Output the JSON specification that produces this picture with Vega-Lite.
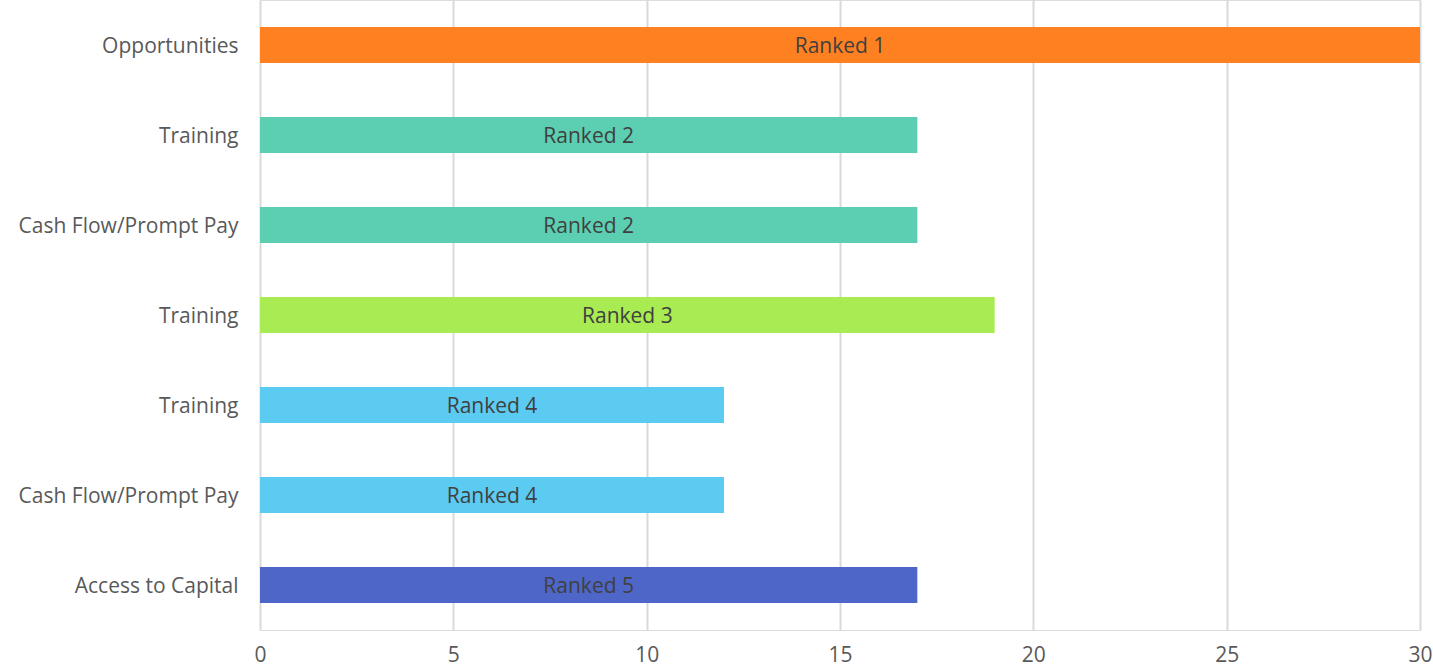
{
  "$schema": "https://vega.github.io/schema/vega-lite/v6.json",
  "width": 1160,
  "height": 630,
  "autosize": {"type": "none"},
  "padding": {"left": 260, "top": 0, "right": 13, "bottom": 40},
  "background": "white",
  "data": {
    "values": [
      {"row": "1 Opportunities", "value": 30, "rank": "Ranked 1"},
      {"row": "2 Training", "value": 17, "rank": "Ranked 2"},
      {"row": "3 Cash Flow/Prompt Pay", "value": 17, "rank": "Ranked 2"},
      {"row": "4 Training", "value": 19, "rank": "Ranked 3"},
      {"row": "5 Training", "value": 12, "rank": "Ranked 4"},
      {"row": "6 Cash Flow/Prompt Pay", "value": 12, "rank": "Ranked 4"},
      {"row": "7 Access to Capital", "value": 17, "rank": "Ranked 5"}
    ]
  },
  "encoding": {
    "y": {
      "field": "row",
      "type": "nominal",
      "sort": "ascending",
      "scale": {"paddingInner": 0.6, "paddingOuter": 0.3},
      "axis": {
        "title": null,
        "domain": false,
        "ticks": false,
        "grid": false,
        "labelExpr": "substring(datum.value, 2)",
        "labelPadding": 22,
        "labelOffset": 2,
        "labelLimit": 0,
        "labelFontSize": 21,
        "labelFont": "Open Sans",
        "labelColor": "#595959"
      }
    }
  },
  "layer": [
    {
      "mark": {"type": "bar"},
      "encoding": {
        "x": {
          "field": "value",
          "type": "quantitative",
          "scale": {"domain": [0, 30], "nice": false},
          "axis": {
            "title": null,
            "values": [0, 5, 10, 15, 20, 25, 30],
            "domain": false,
            "ticks": false,
            "grid": true,
            "gridColor": "#d9d9d9",
            "gridWidth": 2,
            "labelPadding": 14,
            "labelFontSize": 21,
            "labelFont": "Open Sans",
            "labelColor": "#595959",
            "labelFlush": false
          }
        },
        "color": {
          "field": "rank",
          "type": "nominal",
          "legend": null,
          "scale": {
            "domain": ["Ranked 1", "Ranked 2", "Ranked 3", "Ranked 4", "Ranked 5"],
            "range": ["#ff8021", "#5ccfb2", "#a8eb52", "#5ccbf2", "#4d66c7"]
          }
        }
      }
    },
    {
      "transform": [{"calculate": "datum.value / 2", "as": "mid"}],
      "mark": {"type": "text", "font": "Open Sans", "fontSize": 21, "color": "#404040", "align": "center", "baseline": "middle", "dy": 2},
      "encoding": {
        "x": {"field": "mid", "type": "quantitative"},
        "text": {"field": "rank"}
      }
    }
  ]
}
